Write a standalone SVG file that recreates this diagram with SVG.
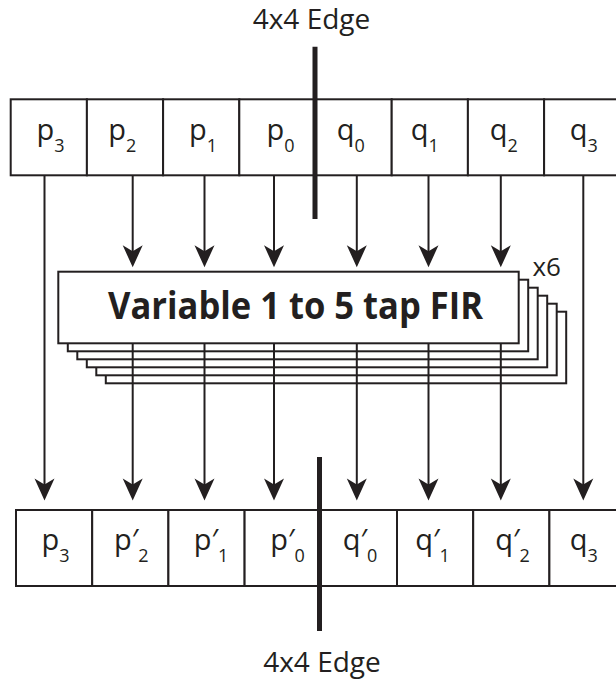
<svg xmlns="http://www.w3.org/2000/svg" width="616" height="681" viewBox="0 0 616 681">
  <style>
    .cell { fill: #fff; stroke: #231f20; stroke-width: 2; }
    .tap { fill: #fff; stroke: #231f20; stroke-width: 2; }
    .lbl { font-family: "Open Sans", "DejaVu Sans", sans-serif; font-size: 29px; fill: #231f20; }
    .sub { font-size: 18px; }
    .title { font-family: "Open Sans", "DejaVu Sans", sans-serif; font-size: 28px; fill: #231f20; text-anchor: middle; }
    .fir { font-family: "Open Sans", "DejaVu Sans", sans-serif; font-size: 38px; font-weight: bold; fill: #231f20; }
    .count { font-family: "Open Sans", "DejaVu Sans", sans-serif; font-size: 26px; fill: #231f20; }
    .edge { stroke: #231f20; stroke-width: 5; }
    .conn { stroke: #231f20; stroke-width: 2; fill: none; marker-end: url(#ah); }
  </style>
  <defs>
    <marker id="ah" markerUnits="userSpaceOnUse" orient="auto" viewBox="-19 -11 24 22" markerWidth="24" markerHeight="22" refX="0" refY="0">
      <path d="M4,0 L-18,-10 L-12,0 L-18,10 Z" fill="#231f20"/>
    </marker>
  </defs>

  <!-- upper edge label and boundary -->
  <g id="edge-top">
    <text class="title" x="311.5" y="28.5">4x4 Edge</text>
  </g>

  <!-- input samples -->
  <g id="in-p3"><rect class="cell" x="10.7" y="99.3" width="76.2" height="76"/><text class="lbl" x="36.5" y="139.5">p<tspan class="sub" dy="12">3</tspan></text></g>
  <g id="in-p2"><rect class="cell" x="86.9" y="99.3" width="76.2" height="76"/><text class="lbl" x="108.2" y="139.5">p<tspan class="sub" dy="12">2</tspan></text></g>
  <g id="in-p1"><rect class="cell" x="163.1" y="99.3" width="76.2" height="76"/><text class="lbl" x="188.9" y="139.5">p<tspan class="sub" dy="12">1</tspan></text></g>
  <g id="in-p0"><rect class="cell" x="239.3" y="99.3" width="76.2" height="76"/><text class="lbl" x="266.5" y="139.5">p<tspan class="sub" dy="12">0</tspan></text></g>
  <g id="in-q0"><rect class="cell" x="315.5" y="99.3" width="76.2" height="76"/><text class="lbl" x="336.7" y="139.5">q<tspan class="sub" dy="12">0</tspan></text></g>
  <g id="in-q1"><rect class="cell" x="391.7" y="99.3" width="76.2" height="76"/><text class="lbl" x="410.7" y="139.5">q<tspan class="sub" dy="12">1</tspan></text></g>
  <g id="in-q2"><rect class="cell" x="467.9" y="99.3" width="76.2" height="76"/><text class="lbl" x="489.7" y="139.5">q<tspan class="sub" dy="12">2</tspan></text></g>
  <g id="in-q3"><rect class="cell" x="544.1" y="99.3" width="76.2" height="76"/><text class="lbl" x="569.7" y="139.5">q<tspan class="sub" dy="12">3</tspan></text></g>

  <line class="edge" x1="315" y1="46.7" x2="315" y2="219"/>

  <!-- six stacked filter stages, back to front -->
  <g id="filter">
    <rect class="tap" x="105.8" y="311.7" width="460.4" height="71.6"/>
    <rect class="tap" x="96.3" y="303.7" width="460.4" height="71.6"/>
    <rect class="tap" x="86.8" y="295.7" width="460.4" height="71.6"/>
    <rect class="tap" x="77.3" y="287.7" width="460.4" height="71.6"/>
    <rect class="tap" x="67.8" y="279.7" width="460.4" height="71.6"/>
    <rect class="tap" x="58.3" y="271.7" width="460.4" height="71.6"/>
    <text class="fir" x="108" y="318.5" textLength="375" lengthAdjust="spacingAndGlyphs">Variable 1 to 5 tap FIR</text>
    <text class="count" x="532.5" y="275.5">x6</text>
  </g>

  <!-- data paths -->
  <g id="connectors">
    <line class="conn" x1="44.5" y1="175.3" x2="44.5" y2="496.5"/>
    <line class="conn" x1="132.7" y1="175.3" x2="132.7" y2="263.3"/>
    <line class="conn" x1="204.5" y1="175.3" x2="204.5" y2="263.3"/>
    <line class="conn" x1="274" y1="175.3" x2="274" y2="263.3"/>
    <line class="conn" x1="356.8" y1="175.3" x2="356.8" y2="263.3"/>
    <line class="conn" x1="428.5" y1="175.3" x2="428.5" y2="263.3"/>
    <line class="conn" x1="500.8" y1="175.3" x2="500.8" y2="263.3"/>
    <line class="conn" x1="583.3" y1="175.3" x2="583.3" y2="496.5"/>
    <line class="conn" x1="132.7" y1="343.3" x2="132.7" y2="496.5"/>
    <line class="conn" x1="204.5" y1="343.3" x2="204.5" y2="496.5"/>
    <line class="conn" x1="274" y1="343.3" x2="274" y2="496.5"/>
    <line class="conn" x1="356.8" y1="343.3" x2="356.8" y2="496.5"/>
    <line class="conn" x1="428.5" y1="343.3" x2="428.5" y2="496.5"/>
    <line class="conn" x1="500.8" y1="343.3" x2="500.8" y2="496.5"/>
  </g>

  <!-- filtered output samples -->
  <g id="out-p3"><rect class="cell" x="16" y="510" width="76.2" height="76"/><text class="lbl" x="41.5" y="550">p<tspan class="sub" dy="12">3</tspan></text></g>
  <g id="out-p2"><rect class="cell" x="92.2" y="510" width="76.2" height="76"/><text class="lbl" x="113.9" y="550">p′<tspan class="sub" dy="12">2</tspan></text></g>
  <g id="out-p1"><rect class="cell" x="168.4" y="510" width="76.2" height="76"/><text class="lbl" x="193.7" y="550">p′<tspan class="sub" dy="12">1</tspan></text></g>
  <g id="out-p0"><rect class="cell" x="244.6" y="510" width="76.2" height="76"/><text class="lbl" x="270.2" y="550">p′<tspan class="sub" dy="12">0</tspan></text></g>
  <g id="out-q0"><rect class="cell" x="320.8" y="510" width="76.2" height="76"/><text class="lbl" x="342.7" y="550">q′<tspan class="sub" dy="12">0</tspan></text></g>
  <g id="out-q1"><rect class="cell" x="397" y="510" width="76.2" height="76"/><text class="lbl" x="415.2" y="550">q′<tspan class="sub" dy="12">1</tspan></text></g>
  <g id="out-q2"><rect class="cell" x="473.2" y="510" width="76.2" height="76"/><text class="lbl" x="495.2" y="550">q′<tspan class="sub" dy="12">2</tspan></text></g>
  <g id="out-q3"><rect class="cell" x="549.4" y="510" width="76.2" height="76"/><text class="lbl" x="569.7" y="550">q<tspan class="sub" dy="12">3</tspan></text></g>

  <!-- lower edge boundary and label -->
  <line class="edge" x1="319.5" y1="457" x2="319.5" y2="631"/>
  <g id="edge-bottom">
    <text class="title" x="322" y="671.7">4x4 Edge</text>
  </g>
</svg>
